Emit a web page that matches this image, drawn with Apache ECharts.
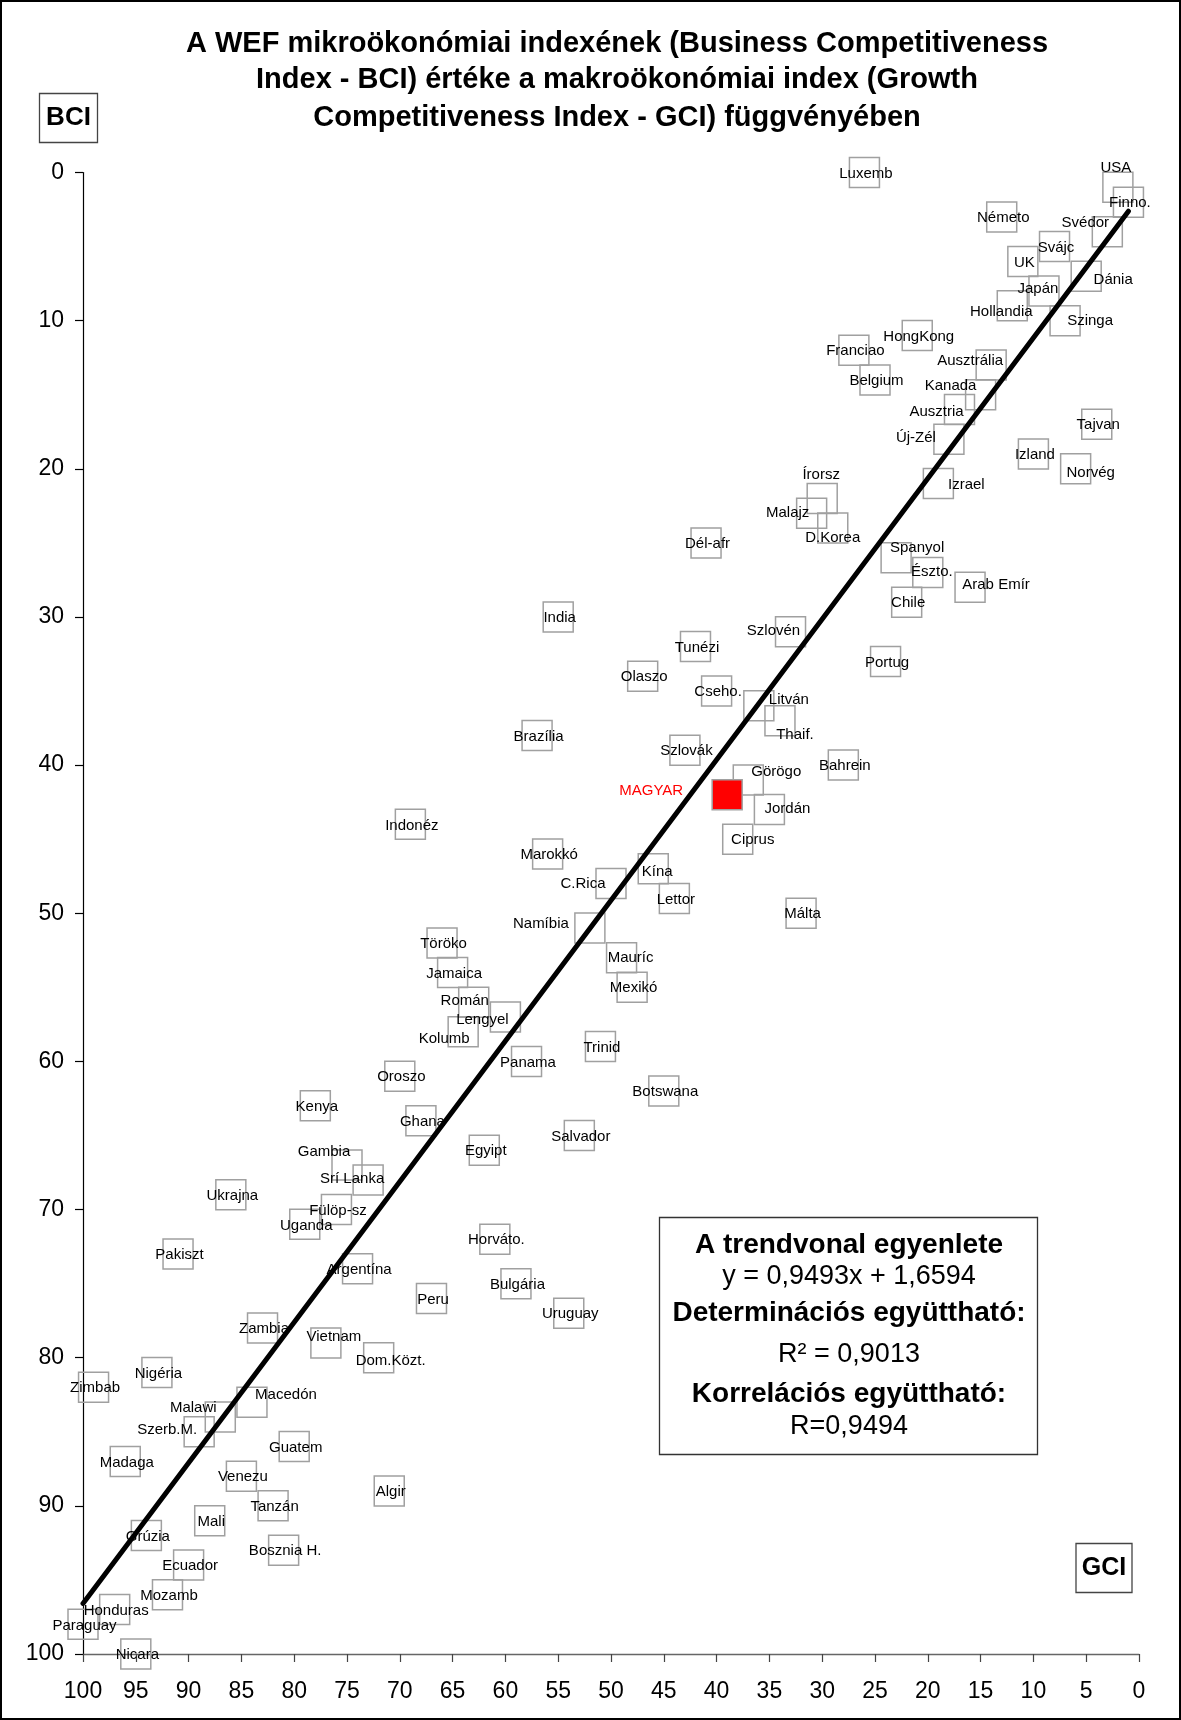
<!DOCTYPE html>
<html><head><meta charset="utf-8">
<script src="https://cdn.jsdelivr.net/npm/echarts/dist/echarts.min.js"></script>
<style>html,body{margin:0;padding:0;background:#fff}#c{width:1181px;height:1720px}</style>
</head><body><div id="c"></div>
<script>
// ---- data (ranks) ----
const countries = ["Luxemb","USA","Finno.","Németo","Svédor","Svájc","UK","Dánia","Japán","Hollandia",
  "Szinga","HongKong","Franciao","Ausztrália","Belgium","Kanada","Ausztria","Tajvan","Új-Zél","Izland",
  "Norvég","Izrael","Írorsz","Malajz","D.Korea","Dél-afr","Spanyol","Észto.","Arab Emír","Chile",
  "India","Szlovén","Tunézi","Portug","Olaszo","Cseho.","Litván","Thaif.","Brazília","Szlovák",
  "Bahrein","Görögo","MAGYAR","Jordán","Indonéz","Ciprus","Marokkó","Kína","C.Rica","Lettor",
  "Málta","Namíbia","Töröko","Mauríc","Jamaica","Mexikó","Román","Lengyel","Kolumb","Trinid",
  "Panama","Oroszo","Botswana","Kenya","Ghana","Salvador","Egyipt","Gambia","Srí Lanka","Ukrajna",
  "Fülöp-sz","Uganda","Horváto.","Pakiszt","Argentína","Bulgária","Peru","Uruguay","Zambia","Vietnam",
  "Dom.Közt.","Nigéria","Zimbab","Macedón","Malawi","Szerb.M.","Guatem","Madaga","Venezu","Algir",
  "Tanzán","Mali","Grúzia","Bosznia H.","Ecuador","Mozamb","Honduras","Paraguay","Nicara"];
const gciRank = [26,2,1,13,3,8,11,5,9,12,
  7,21,27,14,25,15,17,4,18,10,
  6,19,30,31,29,41,23,20,16,22,
  55,33,42,24,47,40,36,34,57,43,
  28,37,39,35,69,38,56,46,50,44,
  32,52,66,49,65,48,63,60,64,51,
  58,70,45,78,68,53,62,75,73,86,
  76,79,61,91,74,59,67,54,83,77,
  72,93,99,84,87,89,80,96,85,71,
  82,88,94,81,90,92,97,100,95];
const bciRank = [0,1,2,3,4,5,6,7,8,9,
  10,11,12,13,14,15,16,17,18,19,
  20,21,22,23,24,25,26,27,28,29,
  30,31,32,33,34,35,36,37,38,39,
  40,41,42,43,44,45,46,47,48,49,
  50,51,52,53,54,55,56,57,58,59,
  60,61,62,63,64,65,66,67,68,69,
  70,71,72,73,74,75,76,77,78,79,
  80,81,82,83,84,85,86,87,88,89,
  90,91,92,93,94,96,97,98,100];
const highlighted = "MAGYAR";
const trendSlope = 0.9493, trendIntercept = 1.6594;
const titleLines = ["A WEF mikroökonómiai indexének (Business Competitiveness",
  "Index - BCI) értéke a makroökonómiai index (Growth",
  "Competitiveness Index - GCI) függvényében"];
const boxLines = [["A trendvonal egyenlete", true], ["y = 0,9493x + 1,6594", false],
  ["Determinációs együttható:", true], ["R² = 0,9013", false],
  ["Korrelációs együttható:", true], ["R=0,9494", false]];

// ---- label placement (pixel shifts of data labels) ----
const labelShift = {
  "USA":[-2,-19],"Svédor":[-22,-9],"Dánia":[27,4],"Japán":[-6,-2],"Hollandia":[-11,6],"Szinga":[25,0],
  "Ausztrália":[-21,-4],"Kanada":[-30,-9],"Ausztria":[-23,2],"Új-Zél":[-33,-1],"Norvég":[15,4],"Izrael":[28,1],
  "Írorsz":[-1,-24],"Malajz":[-24,0],"D.Korea":[0,10],"Spanyol":[21,-10],"Észto.":[4,-1],"Arab Emír":[26,-2],
  "Szlovén":[-17,-1],"Litván":[30,-6],"Thaif.":[15,14],"Görögo":[28,-8],"MAGYAR":[-76,-4],"Jordán":[18,-1],
  "Ciprus":[15,1],"Kína":[4,3],"C.Rica":[-28,0],"Namíbia":[-49,-4],"Mauríc":[9,0],"Román":[-9,-1],
  "Lengyel":[-23,3],"Kolumb":[-19,7],"Gambia":[-23,-13],"Srí Lanka":[-16,-1],"Vietnam":[8,-6],
  "Dom.Közt.":[12,3],"Macedón":[34,-7],"Malawi":[-27,-9],"Szerb.M.":[-32,-2]
};

const FONT = '"Liberation Sans", Arial, sans-serif';
const scatterData = countries.map((n, i) => {
  const item = { name: n, value: [gciRank[i], bciRank[i]],
    label: { offset: labelShift[n] || [1.5, 1] } };
  if (n === highlighted) {
    item.itemStyle = { color: '#ff0000', borderColor: '#a0a0a0' };
    item.label.color = '#ff0000';
  }
  return item;
});
const xMin = Math.min(...gciRank), xMax = Math.max(...gciRank);
const trendData = [[xMin, trendSlope * xMin + trendIntercept], [xMax, trendSlope * xMax + trendIntercept]];

const graphics = [
  { type: 'rect', shape: { x: 1, y: 1, width: 1179, height: 1718 }, style: { fill: 'none', stroke: '#000', lineWidth: 2 }, z: 100 },
  { type: 'rect', shape: { x: 39.5, y: 93.5, width: 58, height: 49 }, style: { fill: '#fff', stroke: '#444', lineWidth: 1.3 } },
  { type: 'text', x: 68.5, y: 118, style: { text: 'BCI', font: 'bold 26px ' + FONT, fill: '#000', textAlign: 'center', textVerticalAlign: 'middle', verticalAlign: 'middle' } },
  { type: 'rect', shape: { x: 1076, y: 1543.5, width: 56, height: 49 }, style: { fill: '#fff', stroke: '#444', lineWidth: 1.3 } },
  { type: 'text', x: 1104, y: 1568, style: { text: 'GCI', font: 'bold 25px ' + FONT, fill: '#000', textAlign: 'center', textVerticalAlign: 'middle', verticalAlign: 'middle' } },
  { type: 'rect', shape: { x: 659.5, y: 1217.5, width: 378, height: 237 }, style: { fill: '#fff', stroke: '#333', lineWidth: 1.3 }, z: 10 }
];
const titleY = [44, 80, 118];
titleLines.forEach((t, i) => graphics.push({ type: 'text', x: 617, y: titleY[i],
  style: { text: t, font: 'bold 29px ' + FONT, fill: '#000', textAlign: 'center', textVerticalAlign: 'middle', verticalAlign: 'middle' } }));
const boxY = [1245, 1277, 1313, 1355, 1394, 1427];
boxLines.forEach((b, i) => graphics.push({ type: 'text', x: 849, y: boxY[i], z: 11,
  style: { text: b[0], font: (b[1] ? 'bold 28px ' : '27px ') + FONT, fill: '#000', textAlign: 'center', textVerticalAlign: 'middle', verticalAlign: 'middle' } }));

const chart = echarts.init(document.getElementById('c'), null, { renderer: 'canvas' });
chart.setOption({
  animation: false,
  backgroundColor: '#fff',
  grid: { left: 83, right: 42, top: 172.5, bottom: 66, containLabel: false },
  xAxis: {
    type: 'value', min: 0, max: 100, interval: 5, inverse: true, position: 'bottom',
    axisLine: { show: true, onZero: false, lineStyle: { color: '#666', width: 1.3 } },
    axisTick: { show: true, length: 8, inside: false, lineStyle: { color: '#444', width: 1.2 } },
    axisLabel: { fontSize: 23, color: '#000', fontFamily: FONT, margin: 26 },
    splitLine: { show: false }
  },
  yAxis: {
    type: 'value', min: 0, max: 100, interval: 10, inverse: true, position: 'left',
    axisLine: { show: true, onZero: false, lineStyle: { color: '#000', width: 1.2 } },
    axisTick: { show: true, length: 8, inside: false, lineStyle: { color: '#000', width: 1.2 } },
    axisLabel: { fontSize: 23, color: '#000', fontFamily: FONT, margin: 19 },
    splitLine: { show: false }
  },
  graphic: graphics,
  series: [
    {
      type: 'scatter', z: 3, clip: false,
      symbol: 'rect', symbolSize: 30,
      itemStyle: { color: 'rgba(255,255,255,0)', borderColor: '#a0a0a0', borderWidth: 1.5, opacity: 1 },
      label: { show: true, position: 'inside', formatter: '{b}', color: '#000', fontSize: 15, fontFamily: FONT },
      emphasis: { disabled: true },
      data: scatterData
    },
    {
      type: 'line', z: 5, symbol: 'none', clip: false,
      lineStyle: { color: '#000', width: 5, cap: 'round' },
      emphasis: { disabled: true },
      data: trendData
    }
  ]
});
</script></body></html>
